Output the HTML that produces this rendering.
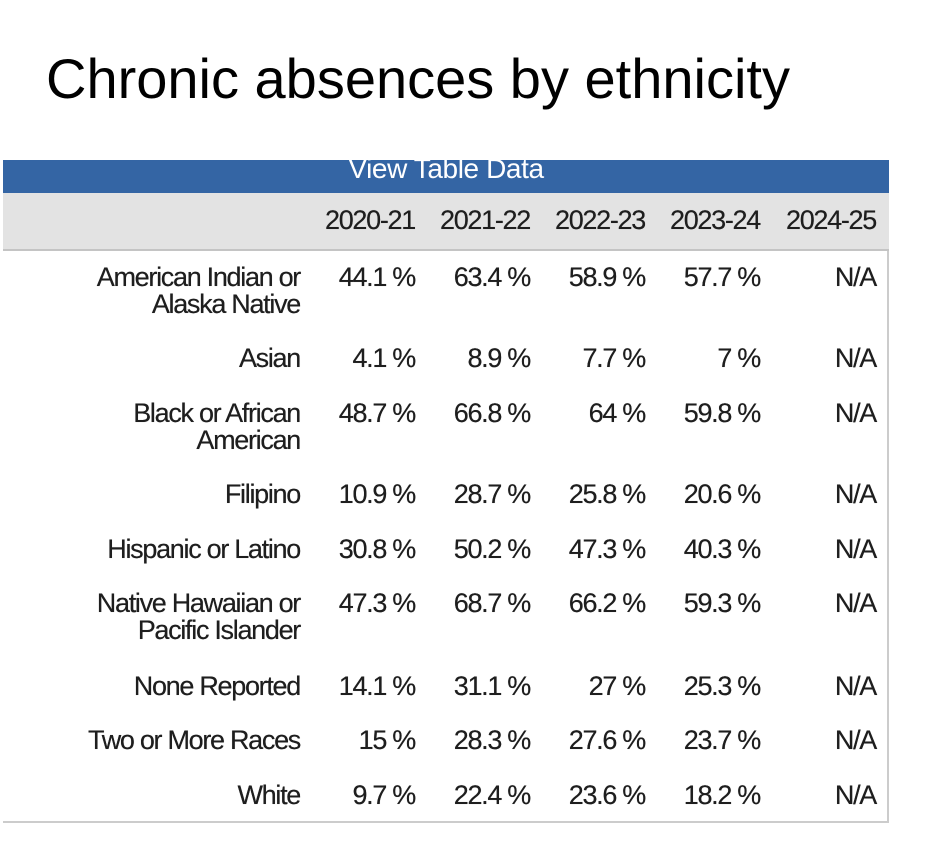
<!DOCTYPE html>
<html><head><meta charset="utf-8"><style>
body{margin:0;width:936px;height:852px;background:#fff;position:relative;overflow:hidden;font-family:"Liberation Sans",sans-serif;color:#1e1e1e}
.t{position:absolute;font-size:27px;line-height:28px;letter-spacing:-1.3px;text-align:right;white-space:nowrap;text-shadow:0 0 0.4px #1e1e1e}
</style></head><body>
<div style="position:absolute;left:46px;top:49px;font-size:56px;line-height:60px;color:#000">Chronic absences by ethnicity</div>
<div style="position:absolute;left:3px;top:160px;width:886px;height:33px;background:#3465a4"></div>
<div style="position:absolute;left:3px;top:152px;width:886px;text-align:center;color:#fff;font-size:28px;line-height:34px;letter-spacing:-0.4px"><span style="position:relative;left:0px">View Table Data</span></div>
<div style="position:absolute;left:3px;top:193px;width:886px;height:56px;background:#e3e3e3;border-bottom:2px solid #c4c4c4"></div>
<div style="position:absolute;left:3px;top:251px;width:884px;height:570px;border-right:2px solid #ccc;border-bottom:2px solid #ccc"></div>
<div id="c"></div>
<script>
var R=[415,530,645,760,876];
var h=["2020-21","2021-22","2022-23","2023-24","2024-25"];
var out="";
function t(txt,right,cy){out+='<div class="t" style="right:'+(936-right)+'px;top:'+(cy-14)+'px">'+txt+'</div>';}
h.forEach(function(s,i){t(s,R[i],220)});
var rows=[
[["American Indian or","Alaska Native"],277,["44.1 %","63.4 %","58.9 %","57.7 %","N/A"]],
[["Asian"],358,["4.1 %","8.9 %","7.7 %","7 %","N/A"]],
[["Black or African","American"],413,["48.7 %","66.8 %","64 %","59.8 %","N/A"]],
[["Filipino"],494,["10.9 %","28.7 %","25.8 %","20.6 %","N/A"]],
[["Hispanic or Latino"],549,["30.8 %","50.2 %","47.3 %","40.3 %","N/A"]],
[["Native Hawaiian or","Pacific Islander"],603,["47.3 %","68.7 %","66.2 %","59.3 %","N/A"]],
[["None Reported"],686,["14.1 %","31.1 %","27 %","25.3 %","N/A"]],
[["Two or More Races"],740,["15 %","28.3 %","27.6 %","23.7 %","N/A"]],
[["White"],795,["9.7 %","22.4 %","23.6 %","18.2 %","N/A"]]];
rows.forEach(function(r){
 r[0].forEach(function(l,j){t(l,300,r[1]+j*27)});
 r[2].forEach(function(v,i){t(v,R[i],r[1])});
});
document.getElementById("c").outerHTML=out;
</script>
</body></html>
